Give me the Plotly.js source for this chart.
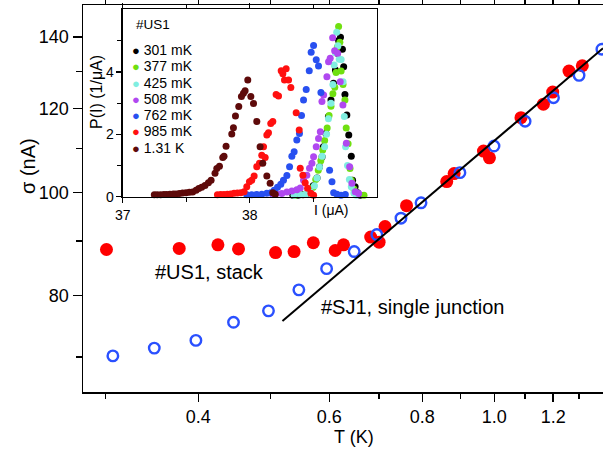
<!DOCTYPE html>
<html><head><meta charset="utf-8">
<script src="https://cdn.plot.ly/plotly-3.0.1.min.js"></script>
<style>html,body{margin:0;padding:0;background:#fff}#chart{width:603px;height:450px}</style>
</head><body><div id="chart"></div>
<script>
// ---- main panel: sigma vs T (log-log) ----
const stackT = [0.301,0.377,0.425,0.453,0.508,0.538,0.571,0.611,0.627,0.682,0.700,0.713,0.762,0.863,0.883,0.967,0.985,1.086,1.164,1.198,1.260,1.313];
const stackSigma = [88.4,88.6,89.3,88.5,87.8,88.0,89.7,88.2,89.3,90.8,89.8,92.9,97.2,102.4,104.2,109.4,107.8,117.6,121.1,124.3,130.1,131.6];
const sjT = [0.307,0.349,0.397,0.446,0.497,0.546,0.595,0.648,0.695,0.749,0.797,0.899,0.999,1.100,1.201,1.300,1.395];
const sjSigma = [70.2,71.4,72.6,75.5,77.4,81.0,84.8,88.0,91.3,94.6,97.8,104.4,110.6,116.7,122.8,128.9,136.4];
const fitT = [0.519,1.40];
const fitSigma = [75.7,136.7];
const xTickVals = [0.4,0.6,0.8,1.0,1.2];
const xTickText = ['0.4','0.6','0.8','1.0','1.2'];
const xMinorVals = [0.3,0.5,0.7,0.9,1.1,1.3];
const yTickVals = [80,100,120,140];
const yTickText = ['80','100','120','140'];
const yMinorVals = [70,90,110,130];

// ---- inset: P(I) vs I ----
const insetLabels = ['301 mK','377 mK','425 mK','508 mK','762 mK','985 mK','1.31 K'];
const insetColors = ['#000000','#70e010','#80eee0','#b048f0','#2850f0','#ff1010','#5e0a0a'];
const I_301 = [38.34,38.38,38.42,38.45,38.48,38.50,38.53,38.55,38.57,38.58,38.60,38.62,38.64,38.66,38.675,38.69,38.70,38.715,38.73,38.74,38.75,38.765,38.78,38.80,38.81,38.83,38.85,38.87];
const P_301 = [0.05,0.05,0.06,0.10,0.20,0.35,0.60,0.96,1.28,1.60,2.03,2.57,3.10,3.64,4.06,4.60,5.01,5.11,4.73,4.17,3.28,2.62,1.98,1.30,0.53,0.32,0.13,0.05];
const I_377 = [38.36,38.40,38.44,38.47,38.50,38.52,38.54,38.56,38.575,38.59,38.61,38.625,38.64,38.655,38.67,38.68,38.69,38.70,38.71,38.72,38.735,38.75,38.76,38.775,38.79,38.80,38.82,38.85,38.90];
const P_377 = [0.05,0.06,0.08,0.15,0.30,0.55,0.85,1.15,1.50,1.80,2.20,2.60,2.90,3.30,3.51,3.98,4.80,5.46,4.95,4.03,3.60,3.10,2.20,1.70,0.90,0.53,0.25,0.10,0.05];
const I_425 = [38.35,38.40,38.44,38.48,38.51,38.53,38.55,38.57,38.59,38.605,38.62,38.64,38.655,38.665,38.675,38.685,38.695,38.705,38.72,38.735,38.745,38.755,38.77,38.785,38.80,38.82,38.84];
const P_425 = [0.05,0.06,0.08,0.15,0.35,0.60,0.95,1.30,1.60,2.00,2.50,3.00,3.60,4.22,4.62,5.27,4.84,4.41,4.40,3.69,2.57,1.60,1.00,0.55,0.32,0.12,0.05];
const I_508 = [38.18,38.21,38.253,38.293,38.332,38.371,38.398,38.424,38.450,38.471,38.490,38.503,38.524,38.542,38.556,38.569,38.582,38.608,38.621,38.634,38.653,38.669,38.692,38.713,38.734,38.761,38.787,38.805,38.831,38.858];
const P_508 = [0.08,0.10,0.10,0.15,0.18,0.22,0.28,0.53,0.69,0.91,1.07,1.28,1.60,1.87,2.08,3.05,3.26,3.85,4.33,4.44,5.10,4.68,4.60,3.69,2.94,1.71,0.96,0.43,0.16,0.10];
const I_762 = [37.977,38.016,38.056,38.095,38.135,38.166,38.193,38.219,38.245,38.266,38.293,38.314,38.332,38.350,38.371,38.392,38.408,38.424,38.445,38.469,38.484,38.503,38.524,38.542,38.561,38.629,38.648,38.661,38.687,38.719,38.753];
const P_762 = [0.06,0.06,0.07,0.08,0.11,0.13,0.21,0.30,0.40,0.53,0.68,0.96,1.30,1.44,1.82,2.03,2.60,3.10,3.44,4.04,4.63,4.85,4.39,4.19,3.34,0.85,0.48,0.13,0.08,0.05,0.07];
const I_985 = [37.746,37.772,37.798,37.825,37.851,37.877,37.903,37.930,37.956,37.977,37.998,38.016,38.035,38.056,38.077,38.095,38.109,38.122,38.135,38.148,38.166,38.182,38.208,38.227,38.248,38.261,38.274,38.287,38.306,38.324,38.366,38.390,38.398,38.419,38.437,38.456,38.482,38.503];
const P_985 = [0.06,0.07,0.07,0.08,0.09,0.11,0.12,0.13,0.16,0.32,0.48,0.53,0.66,0.96,1.07,1.33,1.60,1.26,1.98,2.05,2.35,2.41,3.28,3.23,4.04,3.94,3.74,4.10,3.74,3.50,2.69,2.14,0.91,0.69,0.45,0.27,0.11,0.05];
const I_1310 = [37.249,37.272,37.299,37.325,37.346,37.372,37.399,37.420,37.446,37.472,37.499,37.525,37.551,37.578,37.599,37.622,37.648,37.675,37.696,37.727,37.741,37.762,37.788,37.798,37.814,37.859,37.872,37.888,37.914,37.935,37.951,37.964,37.985,38.009,38.030,38.056,38.082,38.103,38.135,38.161,38.182,38.201];
const P_1310 = [0.06,0.06,0.06,0.07,0.07,0.08,0.09,0.09,0.10,0.12,0.13,0.14,0.15,0.21,0.26,0.30,0.36,0.45,0.53,0.75,0.90,0.98,1.26,1.30,1.62,2.01,2.21,2.59,2.89,3.21,3.32,3.40,3.74,3.21,2.99,2.41,1.60,1.07,0.66,0.43,0.13,0.08];
const insetI = [I_301,I_377,I_425,I_508,I_762,I_985,I_1310];
const insetP = [P_301,P_377,P_425,P_508,P_762,P_985,P_1310];

const FONT = 'Liberation Sans, Arial, Helvetica, sans-serif';

const traces = [];
traces.push({x: stackT, y: stackSigma, type:'scatter', mode:'markers', name:'#US1, stack',
  marker:{symbol:'circle', size:13, color:'#ff0000'}, xaxis:'x', yaxis:'y', showlegend:false});
traces.push({x: sjT, y: sjSigma, type:'scatter', mode:'markers', name:'#SJ1, single junction',
  marker:{symbol:'circle-open', size:10.5, color:'#2a50ff', line:{width:2.4, color:'#2a50ff'}}, xaxis:'x', yaxis:'y', showlegend:false});
traces.push({x: fitT, y: fitSigma, type:'scatter', mode:'lines', name:'fit',
  line:{color:'#000', width:2}, xaxis:'x', yaxis:'y', showlegend:false});
for (let i = 0; i < insetLabels.length; i++) {
  traces.push({x: insetI[i], y: insetP[i], type:'scatter', mode:'markers', name: insetLabels[i],
    marker:{size:7, color: insetColors[i]}, xaxis:'x2', yaxis:'y2', showlegend:false, cliponaxis:false});
}

const axCommon = {showline:true, linecolor:'#000', showgrid:false, zeroline:false, tickcolor:'#000'};

// inset legend as one multi-line text block (line pitch set by base font size 12.5 -> 16.25 px)
const legendLines = insetLabels.map((lab, i) =>
  '<span style="color:' + insetColors[i] + ';font-size:13px">●</span><span style="font-size:14px"> ' + lab + '</span>');

const annotations = [
  {text:'#US1, stack', x:0.2442, y:0.3109, xref:'paper', yref:'paper', showarrow:false, xanchor:'center', yanchor:'middle', font:{size:20, family:FONT, color:'#000'}},
  {text:'#SJ1, single junction', x:0.6346, y:0.2196, xref:'paper', yref:'paper', showarrow:false, xanchor:'center', yanchor:'middle', font:{size:20, family:FONT, color:'#000'}},
  {text:'T (K)', x:0.5212, y:-0.1155, xref:'paper', yref:'paper', showarrow:false, xanchor:'center', yanchor:'middle', font:{size:18, family:FONT, color:'#000'}},
  {text:'σ (nA)', x:-0.1058, y:0.584, xref:'paper', yref:'paper', showarrow:false, textangle:-90, xanchor:'center', yanchor:'middle', font:{size:20, family:FONT, color:'#000'}},
  {text:'P(I) (1/μA)', x:(97-83)/520, y:(392-92)/387, xref:'paper', yref:'paper', showarrow:false, textangle:-90, xanchor:'center', yanchor:'middle', font:{size:16, family:FONT, color:'#000'}},
  {text:'I (μA)', x:(331.7-83)/520, y:(392-210)/387, xref:'paper', yref:'paper', showarrow:false, xanchor:'center', yanchor:'middle', font:{size:14, family:FONT, color:'#000'}},
  {text:'#US1', x:(134-83)/520, y:(392-24.3)/387, xref:'paper', yref:'paper', showarrow:false, xanchor:'left', yanchor:'middle', font:{size:13.5, family:FONT, color:'#000'}},
  {text: legendLines.join('<br>'), x:(130-83)/520, y:(392-98.8)/387, xref:'paper', yref:'paper', showarrow:false,
    xanchor:'left', yanchor:'middle', align:'left', font:{size:12.5, family:FONT, color:'#000'}}
];

const layout = {
  width:603, height:450,
  margin:{l:83, r:0, t:5, b:58, pad:0},
  paper_bgcolor:'#fff', plot_bgcolor:'rgba(0,0,0,0)',
  font:{family:FONT, color:'#000'},
  showlegend:false,
  xaxis: Object.assign({}, axCommon, {type:'log', range:[-0.5530, 0.1461], domain:[0,1], anchor:'y',
    tickmode:'array', tickvals:xTickVals, ticktext:xTickText, ticks:'outside', ticklen:8, tickwidth:1.5,
    linewidth:1.5, mirror:'ticks', tickfont:{size:18, family:FONT},
    minor:{tickmode:'array', tickvals:xMinorVals, ticks:'outside', ticklen:5, tickwidth:1.5, tickcolor:'#000', showgrid:false}}),
  yaxis: Object.assign({}, axCommon, {type:'log', range:[1.8124, 2.1764], domain:[0,1], anchor:'x',
    tickmode:'array', tickvals:yTickVals, ticktext:yTickText, ticks:'outside', ticklen:9, tickwidth:1.5,
    linewidth:1.5, mirror:true, tickfont:{size:18, family:FONT},
    minor:{tickmode:'array', tickvals:yMinorVals, ticks:'outside', ticklen:6, tickwidth:1.5, tickcolor:'#000', showgrid:false}}),
  yaxis3: {type:'log', range:[1.8124, 2.1764], overlaying:'y', side:'right', anchor:'x',
    tickmode:'array', tickvals:yTickVals, ticks:'inside', ticklen:9, tickwidth:1.5, tickcolor:'#000',
    showticklabels:false, showline:false, showgrid:false, zeroline:false,
    minor:{tickmode:'array', tickvals:yMinorVals, ticks:'inside', ticklen:6, tickwidth:1.5, tickcolor:'#000', showgrid:false}},
  xaxis2: Object.assign({}, axCommon, {range:[37, 39.0], domain:[0.0763, 0.5648], anchor:'y2',
    tickmode:'array', tickvals:[37,38], ticktext:['37','38'], ticks:'outside', ticklen:5, tickwidth:1.2,
    linewidth:1.2, mirror:'ticks', tickfont:{size:14, family:FONT},
    minor:{tickmode:'array', tickvals:[37.5,38.5], ticks:'outside', ticklen:4, tickwidth:1.2, tickcolor:'#000', showgrid:false}}),
  yaxis2: Object.assign({}, axCommon, {range:[0, 6.01], domain:[0.5047, 0.9889], anchor:'x2',
    tickmode:'array', tickvals:[0,2,4], ticktext:['0','2','4'], ticks:'outside', ticklen:5, tickwidth:1.2,
    linewidth:1.2, mirror:true, tickfont:{size:14, family:FONT},
    minor:{tickmode:'array', tickvals:[1,3,5], ticks:'outside', ticklen:4, tickwidth:1.2, tickcolor:'#000', showgrid:false}}),
  yaxis4: {range:[0, 6.01], overlaying:'y2', side:'right', anchor:'x2',
    tickmode:'array', tickvals:[0,2,4], ticks:'inside', ticklen:5, tickwidth:1.2, tickcolor:'#000',
    showticklabels:false, showline:false, showgrid:false, zeroline:false,
    minor:{tickmode:'array', tickvals:[1,3,5], ticks:'inside', ticklen:4, tickwidth:1.2, tickcolor:'#000', showgrid:false}},
  annotations: annotations
};

Plotly.newPlot('chart', traces, layout, {staticPlot:true, displayModeBar:false});
</script>
</body></html>
